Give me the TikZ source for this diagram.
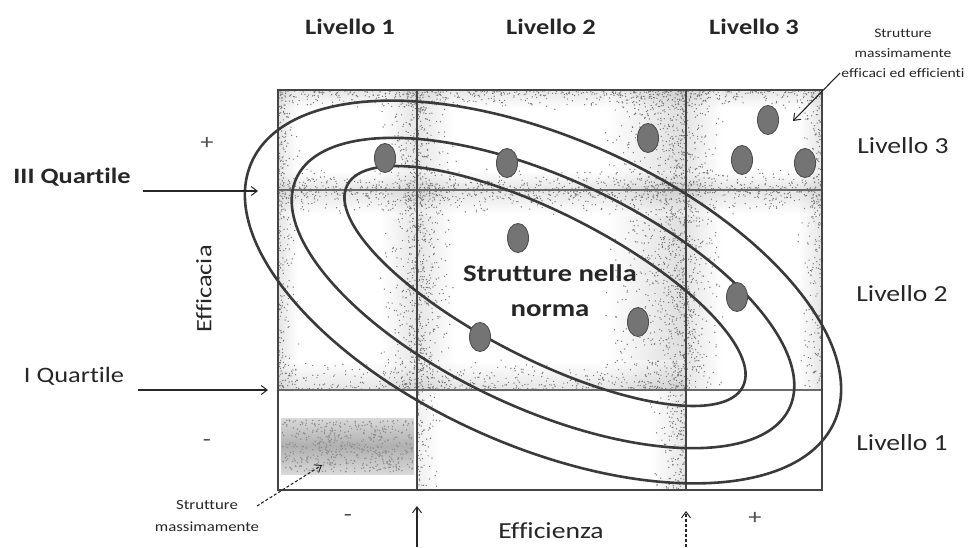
\documentclass[tikz,border=0pt]{standalone}
\usepackage{fontspec}
\setmainfont[FakeStretch=1.2,Ligatures=NoCommon]{Carlito}
\usetikzlibrary{arrows.meta,shapes.geometric}
\definecolor{ink}{HTML}{262626}
\definecolor{gridc}{HTML}{454545}
\definecolor{ellc}{HTML}{3A3A3A}
\definecolor{dotfill}{HTML}{747474}
\definecolor{dotline}{HTML}{4E4E4E}
\definecolor{stip}{HTML}{B4B4B4}
\tikzset{
  gridline/.style={draw=gridc, line width=1.8pt},
  hline/.style={draw=gridc!80, line width=1.3pt},
  ell/.style={draw=ellc, line width=2.6pt},
  dotnode/.style={ellipse, draw=dotline, fill=dotfill, line width=0.9pt, minimum width=21pt, minimum height=29pt, inner sep=0pt},
  toplab/.style={font=\fontsize{22}{26}\selectfont\bfseries, text=ink, inner sep=0pt},
  rlab/.style={font=\fontsize{23}{26}\selectfont, text=ink, inner sep=0pt},
  qlab/.style={font=\fontsize{22}{26}\selectfont, text=ink, inner sep=0pt},
  smalllab/.style={font=\fontsize{13}{20}\selectfont, text=ink, inner sep=0pt, align=center},
  signlab/.style={font=\fontsize{22}{26}\selectfont, text=ink!80, inner sep=0pt},
  axlab/.style={font=\fontsize{22}{26}\selectfont, text=ink, inner sep=0pt},
  normlab/.style={font=\fontsize{24}{35}\selectfont\bfseries, text=ink, inner sep=0pt, align=center},
  arr/.style={draw=black!85, line width=1.1pt, -{Straight Barb[length=6pt,width=9pt,line width=1pt]}},
  darr/.style={arr, densely dashed},
  band/.style={fill opacity=0.35},
  stipdot/.style={fill=black!55}
}
\newcommand\stipx[5]{\foreach \k in {1,...,#5}{\pgfmathsetmacro\sxx{#1+(#2-#1)*rnd*rnd}\pgfmathsetmacro\syy{#3+(#4-#3)*rnd}\fill[stipdot] (\sxx,\syy) circle[radius=0.7];}}
\newcommand\stipy[5]{\foreach \k in {1,...,#5}{\pgfmathsetmacro\syy{#1+(#2-#1)*rnd*rnd}\pgfmathsetmacro\sxx{#3+(#4-#3)*rnd}\fill[stipdot] (\sxx,\syy) circle[radius=0.7];}}
\begin{document}
\begin{tikzpicture}[x=1pt,y=-1pt]
\useasboundingbox (0,0) rectangle (980,547);
\pgfmathsetseed{42}
% ---- stippled background: base tone ----
\begin{scope}[band]
  \shade[top color=stip, bottom color=white] (278,90) rectangle (822,108);
  \shade[left color=stip, right color=white] (278,90) rectangle (298,390);
  \shade[left color=white, right color=stip] (380,90) rectangle (417,390);
  \shade[left color=stip, right color=white] (417,90) rectangle (455,390);
  \shade[left color=stip!60, right color=white] (417,390) rectangle (440,490);
  \shade[left color=white, right color=stip!130] (605,90) rectangle (686,390);
  \shade[left color=white, right color=stip] (650,390) rectangle (686,490);
  \shade[left color=stip, right color=white] (686,90) rectangle (722,390);
  \shade[left color=white, right color=stip] (798,90) rectangle (822,390);
  \shade[top color=white, bottom color=stip] (278,170) rectangle (822,190);
  \shade[top color=stip, bottom color=white] (278,190) rectangle (822,215);
  \shade[top color=white, bottom color=stip] (278,360) rectangle (686,390);
\end{scope}
% ---- stippled background: speckles ----
\stipy{90}{110}{278}{822}{650}
\stipx{278}{300}{90}{390}{300}
\stipx{417}{378}{90}{390}{450}
\stipx{417}{458}{90}{390}{550}
\stipx{417}{442}{390}{490}{100}
\stipx{686}{600}{90}{390}{1000}
\stipx{686}{648}{390}{490}{180}
\stipx{686}{724}{90}{390}{420}
\stipx{822}{796}{90}{390}{260}
\stipy{190}{168}{278}{822}{520}
\stipy{190}{216}{278}{822}{620}
\stipy{390}{358}{278}{686}{450}
% ---- dark bar bottom-left ----
\shade[top color=gray!30, bottom color=gray!30, middle color=gray!62] (281,418) rectangle (414,474);
\foreach \k in {1,...,500}{\pgfmathsetmacro\sxx{282+131*rnd}\pgfmathsetmacro\syy{420+52*rnd}\fill[stipdot, fill=black!45] (\sxx,\syy) circle[radius=0.8];}
% ---- grid ----
\draw[hline] (278,190) -- (822,190);
\draw[hline] (278,390) -- (822,390);
\draw[gridline] (417,90) -- (417,490);
\draw[gridline] (686,90) -- (686,490);
\draw[gridline] (278,90) rectangle (822,490);
% ---- ellipses ----
\draw[ell, rotate around={-24:(543,292)}] (543,292) ellipse [x radius=319, y radius=154];
\draw[ell, rotate around={-25:(543,293)}] (543,293) ellipse [x radius=272, y radius=115];
\draw[ell, rotate around={-27:(545,286)}] (545,286) ellipse [x radius=222, y radius=73];
% ---- dots ----
\node[dotnode] (d1) at (385,158) {};
\node[dotnode] (d2) at (507,163) {};
\node[dotnode] (d3) at (518,238) {};
\node[dotnode] (d4) at (648,138) {};
\node[dotnode] (d5) at (768,120) {};
\node[dotnode] (d6) at (742,160) {};
\node[dotnode] (d7) at (805,163) {};
\node[dotnode] (d8) at (737,297) {};
\node[dotnode] (d9) at (638,322) {};
\node[dotnode] (d10) at (480,337) {};
% ---- labels ----
\node[toplab] (t1) at (350,27) {Livello 1};
\node[toplab] (t2) at (551,27) {Livello 2};
\node[toplab] (t3) at (754,27) {Livello 3};
\node[rlab] (r3) at (903,146) {Livello 3};
\node[rlab] (r2) at (902,294) {Livello 2};
\node[rlab] (r1) at (902,443) {Livello 1};
\node[smalllab] (sme) at (903,53) {Strutture\\massimamente\\efficaci ed efficienti};
\node[qlab, font=\fontsize{22}{26}\selectfont\bfseries] (q3) at (72,177) {III Quartile};
\node[qlab] (q1) at (74,376) {I Quartile};
\node[signlab] (pl) at (207,143) {+};
\node[signlab] (mi) at (207,443) {-};
\node[axlab, rotate=90] (effc) at (204,289) {Efficacia};
\node[axlab, font=\fontsize{23}{26}\selectfont] (effz) at (551,531) {Efficienza};
\node[normlab] (norm) at (550,291) {Strutture nella\\norma};
\node[smalllab, font=\fontsize{14}{22}\selectfont] (sml) at (207,516) {Strutture\\massimamente};
\node[signlab] (bmi) at (348,518) {-};
\node[signlab] (bpl) at (755,518) {+};
% ---- arrows ----
\coordinate (q3s) at (143,191);
\coordinate (q3e) at (258,191);
\coordinate (q1s) at (138,390);
\coordinate (q1e) at (268,390);
\coordinate (smes) at (840,73);
\coordinate (smee) at (793,121);
\coordinate (smls) at (257,506);
\coordinate (smle) at (322,465);
\coordinate (ua1s) at (417,547);
\coordinate (ua1e) at (417,506);
\coordinate (ua2s) at (686,547);
\coordinate (ua2e) at (686,511);
\draw[arr] (q3s) -- (q3e);
\draw[arr] (q1s) -- (q1e);
\draw[arr] (smes) -- (smee);
\draw[darr] (smls) -- (smle);
\draw[arr] (ua1s) -- (ua1e);
\draw[darr] (ua2s) -- (ua2e);
\end{tikzpicture}
\end{document}
